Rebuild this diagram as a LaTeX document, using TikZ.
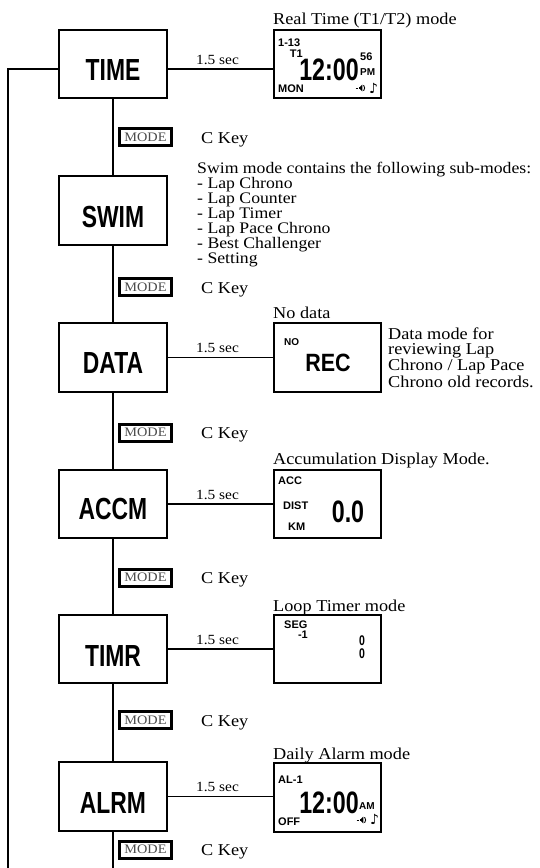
\documentclass[tikz,border=0pt]{standalone}
\usepackage{fontspec}
\setmainfont{Liberation Serif}[FakeStretch=1.1]
\newfontfamily\condsans{Liberation Sans}[FakeStretch=0.75]
\newfontfamily\lcd{Liberation Sans}
\newfontfamily\dv{DejaVu Sans}
\begin{document}
\begin{tikzpicture}[x=1pt,y=-1pt,
  mainbox/.style={draw, line width=1.6pt, minimum width=108.5pt, minimum height=68.5pt, inner sep=0pt},
  mainlabel/.style={font=\condsans\bfseries\fontsize{30.5}{30.5}\selectfont, inner sep=0pt},
  dispbox/.style={draw, line width=1.6pt, minimum width=107.5pt, minimum height=68.5pt, inner sep=0pt},
  modebox/.style={draw, line width=3pt, minimum width=52pt, minimum height=17pt, inner sep=0pt,
    font=\fontsize{13}{13}\selectfont, text=black!70},
  conn/.style={line width=1.4pt},
  sectext/.style={font=\fontsize{14}{14}\selectfont, anchor=base, inner sep=0pt, yshift=5pt, xshift=-3pt},
  serif/.style={font=\fontsize{16.6}{15}\selectfont, inner sep=0pt},
  swimserif/.style={font=\fontsize{16.1}{15}\selectfont, inner sep=0pt},
  small/.style={font=\lcd\bfseries\fontsize{11}{11}\selectfont, inner sep=0pt},
  tiny/.style={font=\lcd\bfseries\fontsize{10}{10}\selectfont, inner sep=0pt},
  bigdig/.style={font=\condsans\bfseries\fontsize{31}{31}\selectfont, inner sep=0pt},
  note/.style={font=\dv\bfseries\fontsize{14}{14}\selectfont, inner sep=0pt},
  speaker/.pic={
    \draw[line width=0.9pt] (-3.5,0) -- (-1.2,0);
    \fill (-0.5,-1.4) rectangle (1.2,1.4);
    \fill (1.2,-1.4) -- (3.4,-3.4) -- (3.4,3.4) -- (1.2,1.4) -- cycle;
    \draw[line width=0.9pt] (4.6,-2.8) .. controls (6,-1.2) and (6,1.2) .. (4.6,2.8);
  }
]
\useasboundingbox (0,0) rectangle (539,868);

% main mode boxes
\node[mainbox] (time) at (113,64) {};
\node[mainlabel] (timeL) at ([yshift=-6pt]time.center) {TIME};
\node[mainbox] (swim) at (113,210.5) {};
\node[mainlabel] (swimL) at ([yshift=-6pt]swim.center) {SWIM};
\node[mainbox] (data) at (113,357.5) {};
\node[mainlabel] (dataL) at ([yshift=-6pt]data.center) {DATA};
\node[mainbox] (accm) at (113,504) {};
\node[mainlabel] (accmL) at ([yshift=-5pt]accm.center) {ACCM};
\node[mainbox] (timr) at (113,649) {};
\node[mainlabel] (timrL) at ([yshift=-7pt]timr.center) {TIMR};
\node[mainbox] (alrm) at (113,796.5) {};
\node[mainlabel] (alrmL) at ([yshift=-6pt]alrm.center) {ALRM};

\coordinate (bottom) at (113,868);
\coordinate (loopbot) at (8,868);

% vertical chain
\draw[conn] (time.south) -- (swim.north);
\draw[conn] (swim.south) -- (data.north);
\draw[conn] (data.south) -- (accm.north);
\draw[conn] (accm.south) -- (timr.north);
\draw[conn] (timr.south) -- (alrm.north);
\draw[conn] (alrm.south) -- (bottom);
\draw[conn] ([yshift=-5pt]time.west) -| (loopbot);

% MODE keys and C Key labels
\foreach \n/\y in {m1/137, m2/287, m3/432.5, m4/577.5, m5/720, m6/849.5}{
  \node[modebox] (\n) at (145.5,\y) {MODE};
  \node[serif, anchor=base west] (\n c) at (201,\y+6) {C Key};
}

% display boxes
\node[dispbox] (timeD) at (327.5,64) {};
\node[dispbox] (dataD) at (327.5,357.5) {};
\node[dispbox] (accmD) at (327.5,504) {};
\node[dispbox] (timrD) at (327.5,649) {};
\node[dispbox] (alrmD) at (327.5,797.5) {};

% horizontal connectors
\draw[conn] ([yshift=-5pt]time.east) -- ([yshift=-5pt]timeD.west) node[midway, sectext] (s1) {1.5 sec};
\draw[conn] (data.east) -- (data.east -| dataD.west) node[midway, sectext] (s2) {1.5 sec};
\draw[conn] (accm.east) -- (accm.east -| accmD.west) node[midway, sectext] (s3) {1.5 sec};
\draw[conn] (timr.east) -- (timr.east -| timrD.west) node[midway, sectext] (s4) {1.5 sec};
\draw[conn] (alrm.east) -- (alrm.east -| alrmD.west) node[midway, sectext] (s5) {1.5 sec};

% titles
\node[serif, anchor=base west] (t1) at (273,24) {Real Time (T1/T2) mode};
\node[serif, anchor=base west] (t2) at (273,318) {No data};
\node[serif, anchor=base west] (t3) at (273,464) {Accumulation Display Mode.};
\node[serif, anchor=base west] (t4) at (273,611) {Loop Timer mode};
\node[serif, anchor=base west] (t5) at (273,759) {Daily Alarm mode};

% swim description
\node[swimserif, anchor=north west, align=left] (swimtxt) at (197,162)
  {Swim mode contains the following sub-modes:\\
   - Lap Chrono\\ - Lap Counter\\ - Lap Timer\\ - Lap Pace Chrono\\
   - Best Challenger\\ - Setting};

% data description
\node[serif, anchor=north west, align=left] (datatxt) at (388,328)
  {Data mode for\\ reviewing Lap\\ Chrono / Lap Pace\\ Chrono old records.};

% TIME display
\node[small, anchor=west] (d1a) at (278,43) {1-13};
\node[small, anchor=east] (d1b) at (303,54) {T1};
\node[bigdig] (d1c) at (329,70) {12:00};
\node[small, anchor=west] (d1d) at (360,57) {56};
\node[tiny, anchor=west] (d1e) at (360,72) {PM};
\node[small, anchor=west] (d1f) at (278,89) {MON};
\pic at (359,88) {speaker};
\node[note, anchor=west] (d1h) at (369,88) {♪};

% DATA display
\node[tiny, anchor=west] (d2a) at (284,342) {NO};
\node[font=\lcd\bfseries\fontsize{25}{25}\selectfont, inner sep=0pt] (d2b) at (328,363) {\scalebox{0.86}[1]{REC}};

% ACCM display
\node[small, anchor=west] (d3a) at (278,481) {ACC};
\node[small, anchor=west] (d3b) at (283,506) {DIST};
\node[small, anchor=west] (d3c) at (288,527) {KM};
\node[bigdig] (d3d) at (348,512) {0.0};

% TIMR display
\node[small, anchor=west] (d4a) at (284,625) {SEG};
\node[small, anchor=east] (d4b) at (308,635) {-1};
\node[font=\condsans\bfseries\fontsize{14}{14}\selectfont, inner sep=0pt] (d4c) at (362,640.5) {0};
\node[font=\condsans\bfseries\fontsize{14}{14}\selectfont, inner sep=0pt] (d4d) at (362,653.5) {0};

% ALRM display
\node[small, anchor=west] (d5a) at (278,780) {AL-1};
\node[bigdig] (d5b) at (329,803) {12:00};
\node[tiny, anchor=west] (d5c) at (359,806) {AM};
\node[small, anchor=west] (d5d) at (278,822) {OFF};
\pic at (360,820) {speaker};
\node[note, anchor=west] (d5f) at (370,819) {♪};
\end{tikzpicture}
\end{document}
